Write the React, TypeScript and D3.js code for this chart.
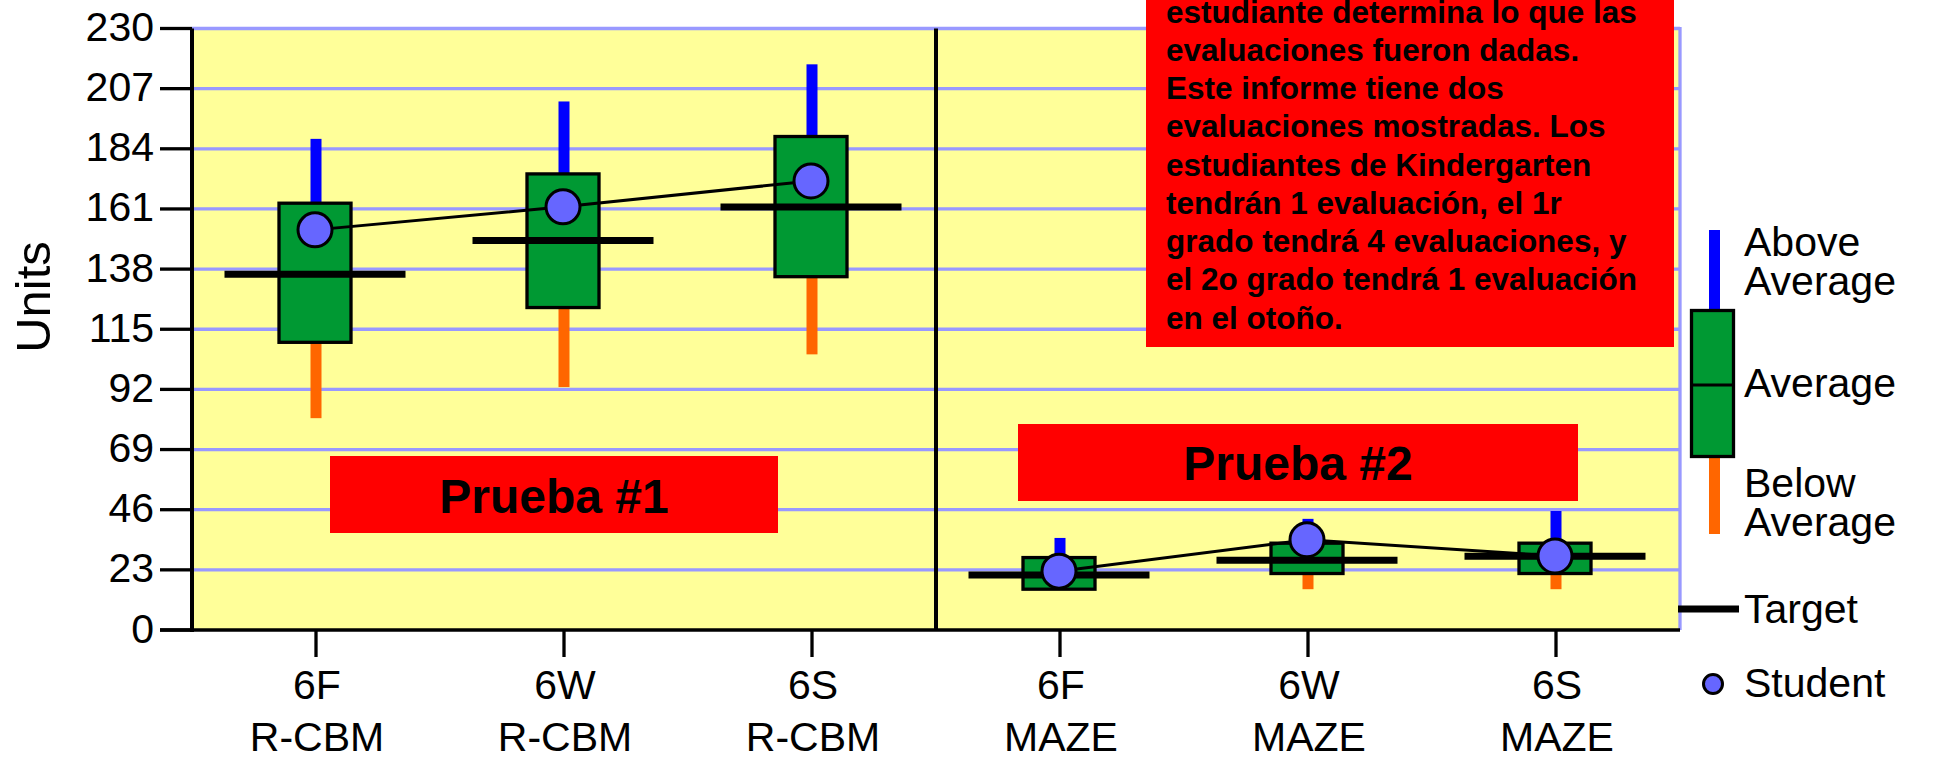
import React from "react";
import * as d3 from "d3";

// ---- data ----
const categories = ["6F", "6W", "6S", "6F", "6W", "6S"];
const measures = ["R-CBM", "R-CBM", "R-CBM", "MAZE", "MAZE", "MAZE"];
const groups = [0, 0, 0, 1, 1, 1];
const boxLow = [110, 123.3, 135.1, 15.6, 21.6, 21.6];
const boxHigh = [163.2, 174.4, 188.7, 27.7, 33.2, 33.2];
const whiskerHigh = [187.8, 202.1, 216.3, 35.2, 42.5, 45.5];
const whiskerLow = [81, 92.9, 105.4, 15.6, 15.6, 15.6];
const targets = [136, 148.9, 161.7, 21, 26.7, 28.2];
const students = [153, 161.8, 171.7, 22.5, 34.5, 28.3];
const yTicks = [0, 23, 46, 69, 92, 115, 138, 161, 184, 207, 230];
const noteLines = [
  "estudiante determina lo que las",
  "evaluaciones fueron dadas.",
  "Este informe tiene dos",
  "evaluaciones mostradas. Los",
  "estudiantes de Kindergarten",
  "tendrán 1 evaluación, el 1r",
  "grado tendrá 4 evaluaciones, y",
  "el 2o grado tendrá 1 evaluación",
  "en el otoño.",
];
const legendLabels = [
  { lines: ["Above", "Average"], y: 256 },
  { lines: ["Average"], y: 397 },
  { lines: ["Below", "Average"], y: 497 },
  { lines: ["Target"], y: 623 },
  { lines: ["Student"], y: 697 },
];

const COLORS = {
  bg: "#ffff99",
  grid: "#9999ff",
  box: "#009933",
  above: "#0000ff",
  below: "#ff6600",
  red: "#ff0000",
  dot: "#6666ff",
};

const FONT = "'Liberation Sans', Arial, sans-serif";

export default function App() {
  const W = 1935;
  const H = 757;
  const left = 192;
  const right = 1680;
  const x = d3
    .scaleBand<number>()
    .domain(d3.range(categories.length))
    .range([left, right])
    .padding(0);
  const y = d3.scaleLinear().domain([0, 230]).range([630, 28.5]);
  const cx = (i: number) => (x(i) as number) + x.bandwidth() / 2 - 1;
  const boxW = 72;
  const targetW = 181;
  const line = d3
    .line<number>()
    .x((i) => cx(i))
    .y((i) => y(students[i]));
  const groupIdx = [0, 1].map((g) =>
    d3.range(categories.length).filter((i) => groups[i] === g)
  );
  const dividerX = (x(3) as number);

  return (
    <svg
      width={W}
      height={H}
      style={{ position: "absolute", left: 0, top: 0, background: "#fff" }}
      fontFamily={FONT}
    >
      {/* plot background */}
      <rect x={left} y={y(230)} width={right - left} height={y(0) - y(230)} fill={COLORS.bg} />
      {/* gridlines */}
      {yTicks.filter((t) => t > 0).map((t) => (
        <line key={t} x1={left} x2={right} y1={y(t)} y2={y(t)} stroke={COLORS.grid} strokeWidth={3.3} />
      ))}
      {/* right border */}
      <line x1={right} x2={right} y1={y(230) - 1.6} y2={y(0)} stroke={COLORS.grid} strokeWidth={3.3} />
      {/* divider */}
      <line x1={dividerX} x2={dividerX} y1={y(230)} y2={y(0)} stroke="#000" strokeWidth={4} />

      {/* whiskers and boxes */}
      {categories.map((_, i) => (
        <g key={"b" + i}>
          <rect x={cx(i) + 1 - 5.5} y={y(whiskerHigh[i])} width={11} height={y(boxHigh[i]) - y(whiskerHigh[i])} fill={COLORS.above} />
          <rect x={cx(i) + 1 - 5.5} y={y(boxLow[i])} width={11} height={Math.max(0, y(whiskerLow[i]) - y(boxLow[i]))} fill={COLORS.below} />
          <rect
            x={cx(i) - boxW / 2}
            y={y(boxHigh[i])}
            width={boxW}
            height={y(boxLow[i]) - y(boxHigh[i])}
            fill={COLORS.box}
            stroke="#000"
            strokeWidth={3.3}
          />
        </g>
      ))}

      {/* student lines */}
      {groupIdx.map((idx, g) => (
        <path key={"l" + g} d={line(idx) || ""} fill="none" stroke="#000" strokeWidth={3} />
      ))}

      {/* targets */}
      {categories.map((_, i) => (
        <line key={"t" + i} x1={cx(i) - targetW / 2} x2={cx(i) + targetW / 2} y1={y(targets[i])} y2={y(targets[i])} stroke="#000" strokeWidth={7} />
      ))}

      {/* student dots */}
      {categories.map((_, i) => (
        <circle key={"d" + i} cx={cx(i)} cy={y(students[i])} r={17} fill={COLORS.dot} stroke="#000" strokeWidth={3} />
      ))}

      {/* axes */}
      <line x1={left} x2={left} y1={y(230)} y2={y(0) + 2} stroke="#000" strokeWidth={4} />
      <line x1={160} x2={right} y1={y(0)} y2={y(0)} stroke="#000" strokeWidth={3.3} />
      {yTicks.map((t) => (
        <g key={"yt" + t}>
          <line x1={160} x2={left} y1={y(t)} y2={y(t)} stroke="#000" strokeWidth={3.3} />
          <text x={154} y={y(t) + 12.5} textAnchor="end" fontSize={41} fill="#000">
            {t}
          </text>
        </g>
      ))}
      {categories.map((c, i) => (
        <g key={"xt" + i}>
          <line x1={cx(i) + 1} x2={cx(i) + 1} y1={y(0)} y2={657} stroke="#000" strokeWidth={3.3} />
          <text x={cx(i) + 2} y={699} textAnchor="middle" fontSize={41} fill="#000">
            {c}
          </text>
          <text x={cx(i) + 2} y={751} textAnchor="middle" fontSize={41} fill="#000">
            {measures[i]}
          </text>
        </g>
      ))}
      <text transform="translate(50,297) rotate(-90)" textAnchor="middle" fontSize={49} fill="#000">
        Units
      </text>

      {/* annotation boxes */}
      <rect x={330} y={456} width={448} height={77} fill={COLORS.red} />
      <text x={554} y={513} textAnchor="middle" fontSize={48} fontWeight="bold" fill="#000">
        Prueba #1
      </text>
      <rect x={1018} y={424} width={560} height={77} fill={COLORS.red} />
      <text x={1298} y={480} textAnchor="middle" fontSize={48} fontWeight="bold" fill="#000">
        Prueba #2
      </text>
      <rect x={1146} y={-10} width={528} height={357} fill={COLORS.red} />
      {noteLines.map((t, i) => (
        <text key={"n" + i} x={1166} y={22.7 + 38.25 * i} fontSize={31.5} fontWeight="bold" fill="#000">
          {t}
        </text>
      ))}

      {/* legend */}
      <rect x={1709} y={230} width={11} height={79} fill={COLORS.above} />
      <rect x={1709} y={458} width={11} height={76} fill={COLORS.below} />
      <rect x={1691.5} y={310.5} width={42} height={146} fill={COLORS.box} stroke="#000" strokeWidth={3.3} />
      <line x1={1691.5} x2={1733.5} y1={385} y2={385} stroke="#000" strokeWidth={3} />
      <line x1={1678} x2={1739} y1={609} y2={609} stroke="#000" strokeWidth={7} />
      <circle cx={1713} cy={684} r={9.5} fill={COLORS.dot} stroke="#000" strokeWidth={3} />
      {legendLabels.map((l, i) =>
        l.lines.map((s, j) => (
          <text key={"lg" + i + j} x={1744} y={l.y + j * 39} fontSize={41} fill="#000">
            {s}
          </text>
        ))
      )}
    </svg>
  );
}
